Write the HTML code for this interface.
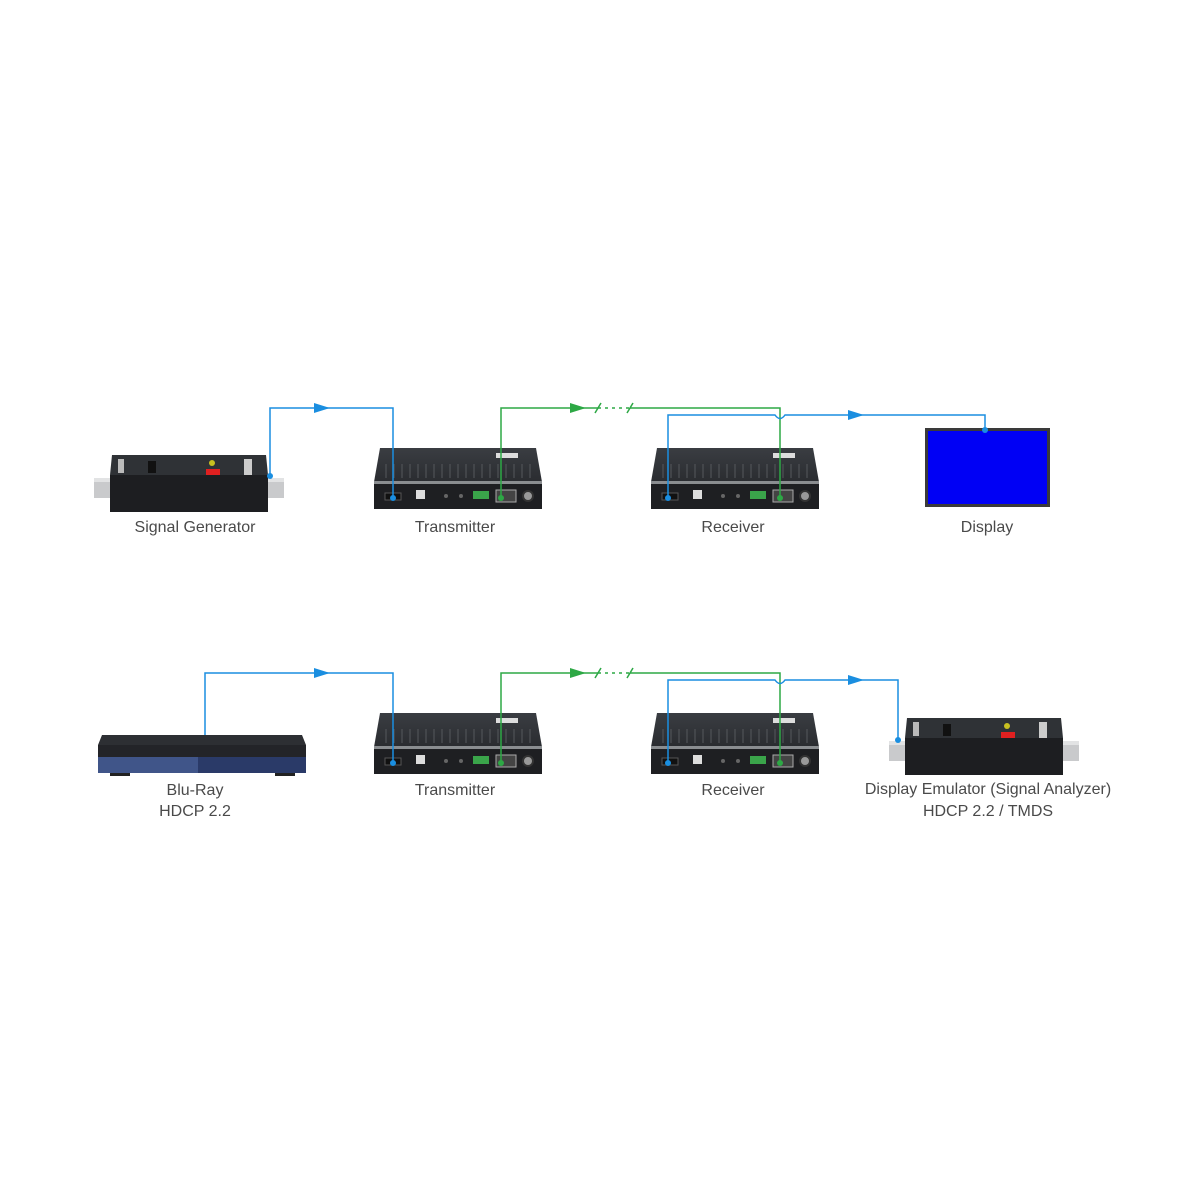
<!DOCTYPE html>
<html><head><meta charset="utf-8"><style>
html,body{margin:0;padding:0;background:#fff;}
svg{display:block;}
text{font-family:"Liberation Sans",sans-serif;font-size:16px;fill:#4a4a4a;text-anchor:middle;}
</style></head><body>
<svg width="1200" height="1200" viewBox="0 0 1200 1200" xmlns="http://www.w3.org/2000/svg">
<defs>
<linearGradient id="tf" x1="0" y1="0" x2="0" y2="1"><stop offset="0" stop-color="#3a3d42"/><stop offset="1" stop-color="#2a2c30"/></linearGradient>
<g id="ext">
  <path d="M4,0 L160,0 L166,34 L-2,34 Z" fill="url(#tf)"/>
  <g stroke="#55585c" stroke-width="1">
    <path d="M10,16 V30 M18,16 V30 M26,16 V30 M34,16 V30 M42,16 V30 M50,16 V30 M58,16 V30 M66,16 V30 M74,16 V30 M82,16 V30 M90,16 V30 M98,16 V30 M106,16 V30 M114,16 V30 M122,16 V30 M130,16 V30 M138,16 V30 M146,16 V30 M154,16 V30"/>
  </g>
  <rect x="120" y="5" width="22" height="5" fill="#ddd"/>
  <rect x="-2" y="33" width="168" height="3" fill="#8a8d90"/>
  <rect x="-2" y="36" width="168" height="25" fill="#1e1f22"/>
  <rect x="9" y="45" width="16" height="7" fill="#111" stroke="#555"/>
  <rect x="40" y="42" width="9" height="9" fill="#ddd"/>
  <circle cx="70" cy="48" r="2" fill="#666"/><circle cx="85" cy="48" r="2" fill="#666"/>
  <rect x="97" y="43" width="16" height="8" fill="#3aa44a"/>
  <rect x="120" y="42" width="20" height="12" fill="#444" stroke="#aaa"/>
  <circle cx="152" cy="48" r="5" fill="#999" stroke="#333" stroke-width="2"/>
</g>
<g id="gen">
  <rect x="-16" y="23" width="190" height="20" fill="#c9cacc"/>
  <rect x="-16" y="23" width="190" height="4" fill="#e2e3e4"/>
  <path d="M2,0 L156,0 L158,20 L0,20 Z" fill="#2f3236"/>
  <rect x="0" y="20" width="158" height="37" fill="#1d1e21"/>
  <rect x="38" y="6" width="8" height="12" fill="#111"/>
  <rect x="8" y="4" width="6" height="14" fill="#bbb"/>
  <circle cx="102" cy="8" r="3" fill="#c8c020"/>
  <rect x="96" y="14" width="14" height="6" fill="#e02020"/>
  <rect x="134" y="4" width="8" height="16" fill="#ccc"/>
</g>
</defs>

<!-- ROW 1 -->
<use href="#gen" x="110" y="455"/>
<use href="#ext" x="376" y="448"/>
<use href="#ext" x="653" y="448"/>
<rect x="925" y="428" width="125" height="79" fill="#3a3a3a"/>
<rect x="928" y="431" width="119" height="73" fill="#0000f5"/>

<g fill="none" stroke-width="1.5">
  <path d="M270,476 V408 H393 V498" stroke="#1a8ee0"/>
  <path d="M501,498 V408 H598 M630,408 H780 V498" stroke="#2da845"/>
  <path d="M598,408 H630" stroke="#2da845" stroke-dasharray="3,4"/>
  <path d="M595,413 L601,403 M627,413 L633,403" stroke="#2da845"/>
  <path d="M668,498 V415 H775 Q780,422 785,415 H985 V430" stroke="#1a8ee0"/>
</g>
<path d="M570,403 L586,408 L570,413 Z" fill="#2da845"/>
<path d="M848,410 L864,415 L848,420 Z" fill="#1a8ee0"/>
<path d="M314,403 L330,408 L314,413 Z" fill="#1a8ee0"/>
<circle cx="270" cy="476" r="3" fill="#1a8ee0"/><circle cx="393" cy="498" r="3" fill="#1a8ee0"/>
<circle cx="501" cy="498" r="3" fill="#2da845"/><circle cx="780" cy="498" r="3" fill="#2da845"/>
<circle cx="668" cy="498" r="3" fill="#1a8ee0"/><circle cx="985" cy="430" r="3" fill="#1a8ee0"/>

<text x="195" y="532">Signal Generator</text>
<text x="455" y="532">Transmitter</text>
<text x="733" y="532">Receiver</text>
<text x="987" y="532">Display</text>

<!-- ROW 2 -->
<g>
  <path d="M102,735 L302,735 L306,745 L98,745 Z" fill="#2d2f33"/>
  <rect x="98" y="745" width="208" height="12" fill="#232428"/>
  <rect x="98" y="757" width="208" height="16" fill="#2a3a68"/>
  <rect x="98" y="757" width="100" height="16" fill="#5068a0" opacity="0.6"/>
  <rect x="110" y="773" width="20" height="3" fill="#222"/><rect x="275" y="773" width="20" height="3" fill="#222"/>
</g>
<use href="#ext" x="376" y="713"/>
<use href="#ext" x="653" y="713"/>
<use href="#gen" x="905" y="718"/>

<g fill="none" stroke-width="1.5">
  <path d="M205,735 V673 H393 V763" stroke="#1a8ee0"/>
  <path d="M501,763 V673 H598 M630,673 H780 V763" stroke="#2da845"/>
  <path d="M598,673 H630" stroke="#2da845" stroke-dasharray="3,4"/>
  <path d="M595,678 L601,668 M627,678 L633,668" stroke="#2da845"/>
  <path d="M668,763 V680 H775 Q780,687 785,680 H898 V740" stroke="#1a8ee0"/>
</g>
<path d="M570,668 L586,673 L570,678 Z" fill="#2da845"/>
<path d="M848,675 L864,680 L848,685 Z" fill="#1a8ee0"/>
<path d="M314,668 L330,673 L314,678 Z" fill="#1a8ee0"/>
<circle cx="393" cy="763" r="3" fill="#1a8ee0"/>
<circle cx="501" cy="763" r="3" fill="#2da845"/><circle cx="780" cy="763" r="3" fill="#2da845"/>
<circle cx="668" cy="763" r="3" fill="#1a8ee0"/><circle cx="898" cy="740" r="3" fill="#1a8ee0"/>

<text x="195" y="795">Blu-Ray</text>
<text x="195" y="816">HDCP 2.2</text>
<text x="455" y="795">Transmitter</text>
<text x="733" y="795">Receiver</text>
<text x="988" y="794">Display Emulator (Signal Analyzer)</text>
<text x="988" y="816">HDCP 2.2 / TMDS</text>
</svg>
</body></html>
